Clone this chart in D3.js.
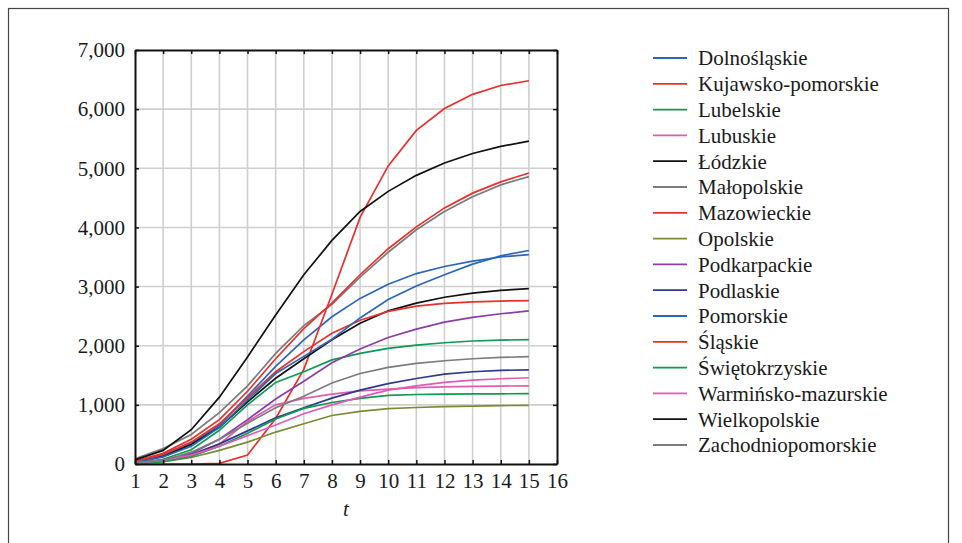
<!DOCTYPE html>
<html>
<head>
<meta charset="utf-8">
<script src="https://cdn.jsdelivr.net/npm/d3@7"></script>
<style>
  body { margin: 0; background: #fff; }
  text { font-family: "Liberation Serif", "DejaVu Serif", serif; fill: #1a1a1a; }
</style>
</head>
<body>
<script>
var t = [1,2,3,4,5,6,7,8,9,10,11,12,13,14,15];
var regions = ["Dolnośląskie","Kujawsko-pomorskie","Lubelskie","Lubuskie","Łódzkie","Małopolskie","Mazowieckie","Opolskie","Podkarpackie","Podlaskie","Pomorskie","Śląskie","Świętokrzyskie","Warmińsko-mazurskie","Wielkopolskie","Zachodniopomorskie"];
var colors = ["#2b67b8","#e8302c","#0d9a55","#e05cb4","#111111","#7c7c7c","#e8302c","#7d8a35","#8b3fa6","#2f3b8a","#2b67b8","#e8302c","#0d9a55","#e05cb4","#111111","#7c7c7c"];

var dolnoslaskie = [40,150,350,660,1150,1650,2100,2490,2800,3040,3220,3340,3430,3500,3540];
var kujawsko = [0,0,0,10,150,770,1600,2870,4170,5040,5640,6010,6250,6400,6480];
var lubelskie = [20,80,240,570,1000,1380,1560,1760,1870,1955,2010,2050,2080,2095,2102];
var lubuskie = [15,60,170,335,720,1000,1110,1180,1237,1266,1290,1305,1313,1318,1322];
var lodzkie = [30,130,330,620,1050,1450,1780,2100,2380,2590,2720,2820,2890,2935,2966];
var malopolskie = [90,260,500,870,1320,1870,2340,2700,3160,3580,3960,4270,4520,4720,4860];
var mazowieckie = [40,160,370,680,1120,1560,1900,2210,2430,2580,2670,2715,2740,2755,2762];
var opolskie = [10,40,110,230,370,540,680,820,890,935,955,970,980,988,992];
var podkarpackie = [20,60,180,420,750,1100,1400,1713,1944,2140,2280,2400,2480,2540,2588];
var podlaskie = [10,50,150,340,560,780,950,1113,1250,1360,1446,1520,1560,1582,1593];
var pomorskie = [30,120,300,620,1080,1530,1820,2110,2470,2780,3010,3200,3380,3520,3610];
var slaskie = [50,180,420,750,1230,1780,2290,2720,3200,3640,4010,4330,4580,4770,4920];
var swietokrzyskie = [10,40,130,300,520,760,940,1040,1110,1160,1175,1182,1185,1187,1190];
var warminsko = [20,60,150,300,480,660,850,1000,1130,1250,1322,1380,1418,1441,1458];
var wielkopolskie = [70,230,580,1130,1810,2520,3200,3780,4270,4610,4880,5090,5250,5370,5460];
var zachodniopomorskie = [20,60,200,420,690,950,1145,1370,1531,1633,1700,1746,1780,1802,1814];

var series = [dolnoslaskie,kujawsko,lubelskie,lubuskie,lodzkie,malopolskie,mazowieckie,opolskie,podkarpackie,podlaskie,pomorskie,slaskie,swietokrzyskie,warminsko,wielkopolskie,zachodniopomorskie];

var xTicks = d3.range(1,17);
var yTicks = [0,1000,2000,3000,4000,5000,6000,7000];

var svg = d3.select("body").append("svg")
    .attr("width", 962)
    .attr("height", 543);

// outer frame
svg.append("rect")
    .attr("x", 8.5).attr("y", 8.5)
    .attr("width", 940).attr("height", 560)
    .attr("fill", "none").attr("stroke", "#444").attr("stroke-width", 1.2);

var x = d3.scaleLinear().domain([1,16]).range([135, 557]);
var y = d3.scaleLinear().domain([0,7000]).range([464, 50]);

// grid
svg.append("g").selectAll("line").data(xTicks.slice(1,-1))
  .enter().append("line")
  .attr("x1", function(d){return x(d);}).attr("x2", function(d){return x(d);})
  .attr("y1", y(0)).attr("y2", y(7000))
  .attr("stroke", "#cfcfcf").attr("stroke-width", 1.6);
svg.append("g").selectAll("line").data(yTicks.slice(1,-1))
  .enter().append("line")
  .attr("x1", x(1)).attr("x2", x(16))
  .attr("y1", function(d){return y(d);}).attr("y2", function(d){return y(d);})
  .attr("stroke", "#cfcfcf").attr("stroke-width", 1.6);

// lines
var line = d3.line()
    .x(function(d,i){return x(t[i]);})
    .y(function(d){return y(d);});

svg.append("g").selectAll("path").data(series)
  .enter().append("path")
  .attr("d", line)
  .attr("fill", "none")
  .attr("stroke", function(d,i){return colors[i];})
  .attr("stroke-width", 1.7);

// axes (ticks point inward)
var fmt = d3.format(",");
var axLeft = svg.append("g").attr("transform","translate(" + x(1) + ",0)")
  .call(d3.axisLeft(y).tickValues(yTicks).tickSizeInner(-4).tickSizeOuter(0).tickPadding(10).tickFormat(fmt));
var axBottom = svg.append("g").attr("transform","translate(0," + y(0) + ")")
  .call(d3.axisBottom(x).tickValues(xTicks).tickSizeInner(-4).tickSizeOuter(0).tickPadding(9));
var axTop = svg.append("g").attr("transform","translate(0," + y(7000) + ")")
  .call(d3.axisTop(x).tickValues(xTicks).tickSizeInner(-4).tickSizeOuter(0).tickFormat(""));
var axRight = svg.append("g").attr("transform","translate(" + x(16) + ",0)")
  .call(d3.axisRight(y).tickValues(yTicks).tickSizeInner(-4).tickSizeOuter(0).tickFormat(""));

[axLeft,axBottom,axTop,axRight].forEach(function(g){
  g.select(".domain").attr("stroke","#111").attr("stroke-width",2);
  g.selectAll(".tick line").attr("stroke","#111").attr("stroke-width",1.5);
  g.selectAll("text").style("font-family","'Liberation Serif', serif").style("font-size","21px").attr("fill","#1a1a1a");
});

svg.append("text")
  .attr("x", x(8.5)).attr("y", 516)
  .attr("text-anchor","middle")
  .style("font-size","21px").style("font-style","italic")
  .text("t");

// legend
var legend = svg.append("g").selectAll("g").data(regions)
  .enter().append("g")
  .attr("transform", function(d,i){return "translate(653," + (58 + i*25.8) + ")";});
legend.append("line")
  .attr("x1", 0).attr("x2", 34)
  .attr("stroke", function(d,i){return colors[i];})
  .attr("stroke-width", 1.8);
legend.append("text")
  .attr("x", 45).attr("dy", "0.35em")
  .style("font-size","21px")
  .text(function(d){return d;});
</script>
</body>
</html>
